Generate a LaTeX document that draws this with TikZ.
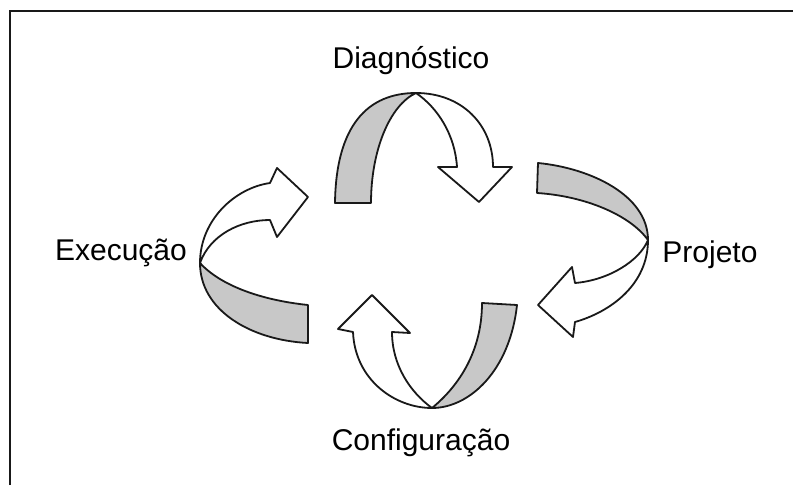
\documentclass[tikz,border=0pt]{standalone}
\usepackage{fontspec}
\setmainfont{Liberation Sans}
\definecolor{ribbonback}{RGB}{200,200,200}
\definecolor{inkline}{RGB}{25,25,25}
\begin{document}
\begin{tikzpicture}[x=1pt,y=-1pt,
  ol/.style={draw=inkline, line width=1.8pt, line join=round},
  back/.style={ol, fill=ribbonback},
  front/.style={ol, fill=white},
  lbl/.style={font=\fontsize{30}{36}\selectfont, anchor=base, inner sep=0pt}]
\useasboundingbox (0,0) rectangle (793,485);
\fill[white] (0,0) rectangle (793,485);
% frame
\draw[inkline, line width=2pt] (10,485) -- (10,11) -- (793,11);

% top arrow (Diagnostico)
\path[back] (335,203) .. controls (336,125) and (368,93) .. (416,93)
   .. controls (390,105) and (371,150) .. (371,203) -- cycle;
\path[front] (416,93) .. controls (462,93) and (493,125) .. (493,167)
   -- (512,167) -- (479,202) -- (438,167) -- (457,167)
   .. controls (455,135) and (438,108) .. (416,93) -- cycle;

% right arrow (Projeto)
\path[back] (538,163) .. controls (590,168) and (648,195) .. (648,240)
   .. controls (630,215) and (585,196) .. (537,193) -- cycle;
\path[front] (648,240) .. controls (648,285) and (610,312) .. (575,322)
   -- (573,337) -- (538,305) -- (572,267) -- (575,283)
   .. controls (610,280) and (640,260) .. (648,240) -- cycle;

% bottom arrow (Configuracao)
\path[back] (517,305) .. controls (510,370) and (470,408) .. (432,408)
   .. controls (460,385) and (482,350) .. (482,303) -- cycle;
\path[front] (432,408) .. controls (395,408) and (355,380) .. (353,332)
   -- (338,329) -- (372,295) -- (410,333) -- (392,332)
   .. controls (392,365) and (410,392) .. (432,408) -- cycle;

% left arrow (Execucao)
\path[back] (308,343) .. controls (250,340) and (200,310) .. (200,263)
   .. controls (220,285) and (260,300) .. (308,305) -- cycle;
\path[front] (200,263) .. controls (200,220) and (235,188) .. (270,183)
   -- (277,168) -- (308,197) -- (277,237) -- (270,220)
   .. controls (240,220) and (210,235) .. (200,263) -- cycle;

% labels
\node[lbl] (diag) at (411,68) {Diagnóstico};
\node[lbl] (proj) at (710,262) {Projeto};
\node[lbl] (conf) at (421,450) {Configuração};
\node[lbl] (exec) at (121,260) {Execução};
\end{tikzpicture}
\end{document}
